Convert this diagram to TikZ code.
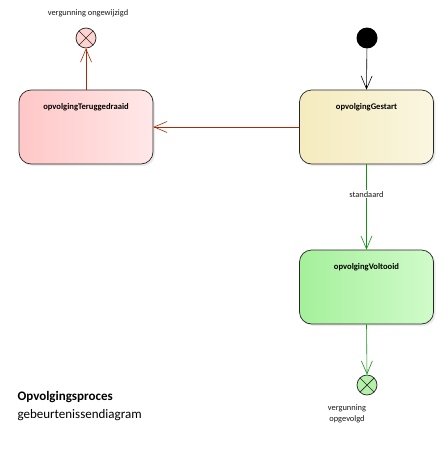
\documentclass[tikz,border=0pt]{standalone}
\usepackage{fontspec}
\setmainfont{Carlito}
\usetikzlibrary{arrows.meta,shadows}

\definecolor{roodbruin}{RGB}{175,40,5}
\definecolor{groen}{RGB}{20,145,20}

\tikzset{
    toestand/.style={draw=black!85, line width=0.7pt, rounded corners=12pt,
        minimum width=134pt, minimum height=74pt,
        drop shadow={shadow xshift=2pt, shadow yshift=-2pt, fill=black!15}},
    titel/.style={font=\fontsize{8.6}{10}\selectfont\bfseries},
    einde/.style={circle, draw=black!85, line width=0.7pt, minimum size=20pt, inner sep=0pt,
        path picture={\draw[line width=0.7pt] (path picture bounding box.north west) -- (path picture bounding box.south east)
            (path picture bounding box.north east) -- (path picture bounding box.south west);}},
    pijl/.style={-{Straight Barb[length=13pt,width=11pt]}, line width=0.6pt},
    klein/.style={font=\fontsize{8.4}{10.5}\selectfont, text=black!90}
}

\begin{document}
\begin{tikzpicture}[x=1pt,y=-1pt]
        \useasboundingbox[fill=white] (0,0) rectangle (443,455);

        % states
        \node[toestand, left color=red!22, right color=red!9,
              label={[titel, anchor=north, yshift=-10pt]north:opvolgingTeruggedraaid}] (teruggedraaid) at (86,127) {};
        \node[toestand, left color={rgb,255:red,245;green,235;blue,190}, right color={rgb,255:red,250;green,246;blue,224},
              label={[titel, anchor=north, yshift=-10pt]north:opvolgingGestart}] (gestart) at (366.5,127) {};
        \node[toestand, left color={rgb,255:red,165;green,240;blue,155}, right color={rgb,255:red,208;green,251;blue,202},
              label={[titel, anchor=north, yshift=-10pt]north:opvolgingVoltooid}] (voltooid) at (366.5,287) {};

        % start and end points
        \node[circle, fill=black, minimum size=21pt, inner sep=0pt] (start) at (367,38) {};
        \node[einde, fill={rgb,255:red,255;green,212;blue,208}] (ongewijzigd) at (86,38) {};
        \node[einde, fill={rgb,255:red,180;green,240;blue,170}] (opgevolgd) at (367,385) {};

        \node[klein] (lblongewijzigd) at (88,13) {vergunning ongewijzigd};
        \node[klein, align=center] (lblopgevolgd) at (347,414) {vergunning\\opgevolgd};

        % transitions
        \draw[pijl, black] (start) -- (gestart.north);
        \draw[pijl, roodbruin] (gestart.west) -- (teruggedraaid.east);
        \draw[pijl, roodbruin] (teruggedraaid.north) -- (ongewijzigd.south);
        \draw[pijl, groen] (gestart.south) -- (voltooid.north)
            node[pos=0.35, klein, fill=white, inner sep=1pt] (lblstandaard) {standaard};
        \draw[pijl, groen] (voltooid.south) -- (opgevolgd.north);

        % diagram name
        \node[anchor=base west, font=\fontsize{13}{15}\selectfont\bfseries] (naam) at (14,400) {Opvolgingsproces};
        \node[anchor=base west, font=\fontsize{13}{15}\selectfont] (soort) at (14,418) {gebeurtenissendiagram};
\end{tikzpicture}
\end{document}
